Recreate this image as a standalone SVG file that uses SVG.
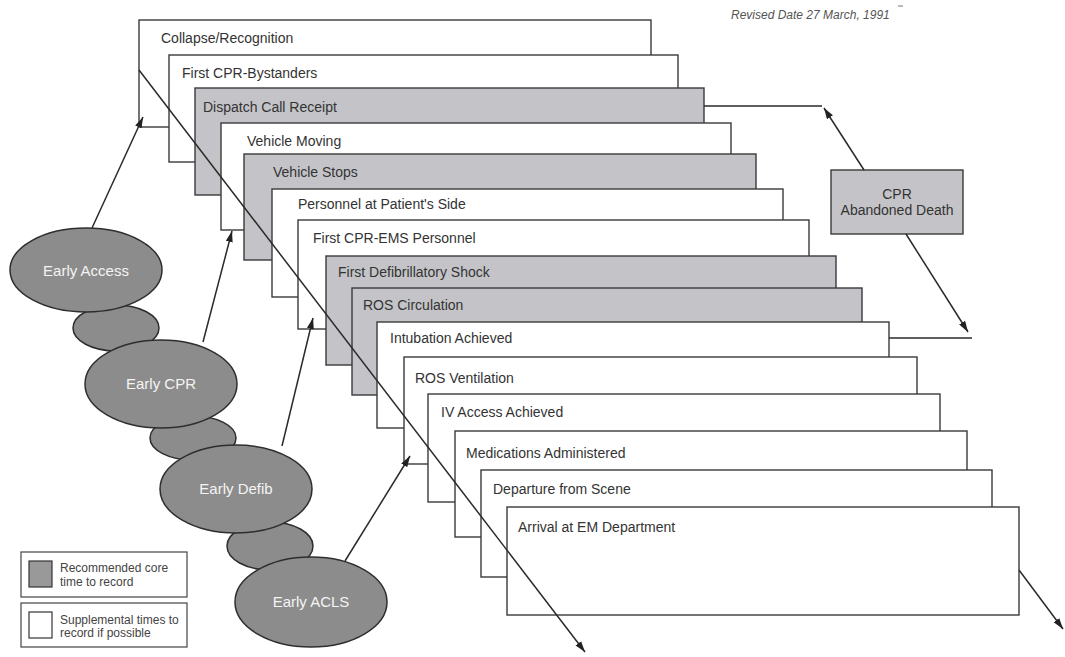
<svg xmlns="http://www.w3.org/2000/svg" width="1065" height="657" viewBox="0 0 1065 657">
<style>
.card{stroke:#3a3a3a;stroke-width:1.4}
.w{fill:#ffffff}
.g{fill:#c4c4c8}
.lbl{font-family:"Liberation Sans",Arial,sans-serif;font-size:14px;fill:#333}
.ell{fill:#8c8c8c;stroke:#2e2e2e;stroke-width:1.5}
.etx{font-family:"Liberation Sans",Arial,sans-serif;font-size:15px;fill:#f4f4f4;text-anchor:middle}
.con{stroke:#2a2a2a;stroke-width:1.5;fill:none}
.leg{font-family:"Liberation Sans",Arial,sans-serif;font-size:12px;fill:#444}
</style>
<defs>
<marker id="ah" viewBox="0 0 10 10" refX="10" refY="5" markerWidth="11" markerHeight="11" markerUnits="userSpaceOnUse" orient="auto">
<path d="M0,1.8 L10,5 L0,8.2 z" fill="#222"/>
</marker>
</defs>
<rect width="1065" height="657" fill="#ffffff"/>

<text x="731" y="19" font-family="Liberation Sans, Arial, sans-serif" font-size="12" font-style="italic" fill="#555">Revised Date 27 March, 1991</text>
<line x1="898" y1="6" x2="903" y2="6" stroke="#777" stroke-width="1"/>

<g id="legend">
<rect x="21" y="552" width="166" height="45" fill="#fff" stroke="#444" stroke-width="1.2"/>
<rect x="29" y="561" width="23" height="26" fill="#999" stroke="#333" stroke-width="1.2"/>
<text class="leg" x="60" y="572">Recommended core</text>
<text class="leg" x="60" y="586">time to record</text>
<rect x="21" y="603" width="166" height="44" fill="#fff" stroke="#444" stroke-width="1.2"/>
<rect x="29" y="612" width="23" height="26" fill="#fff" stroke="#333" stroke-width="1.2"/>
<text class="leg" x="60" y="624">Supplemental times to</text>
<text class="leg" x="60" y="637">record if possible</text>
</g>

<g id="chain">
<ellipse id="link3" class="ell" cx="270" cy="546" rx="43" ry="24"/>
<ellipse id="link2" class="ell" cx="193" cy="438" rx="43" ry="22"/>
<ellipse id="link1" class="ell" cx="116" cy="328" rx="43" ry="23"/>
<g id="early-access"><ellipse class="ell" cx="86" cy="270" rx="76" ry="42"/><text class="etx" x="86" y="276">Early Access</text></g>
<g id="early-cpr"><ellipse class="ell" cx="161" cy="384" rx="76" ry="44"/><text class="etx" x="161" y="389">Early CPR</text></g>
<g id="early-defib"><ellipse class="ell" cx="236" cy="489" rx="76" ry="44"/><text class="etx" x="236" y="494">Early Defib</text></g>
<g id="early-acls"><ellipse class="ell" cx="311" cy="602" rx="76" ry="45"/><text class="etx" x="311" y="607">Early ACLS</text></g>
</g>

<g id="cards">
<g id="c1"><rect class="card w" x="139" y="20" width="512" height="107"/><text class="lbl" x="161" y="43">Collapse/Recognition</text></g>
<g id="c2"><rect class="card w" x="169" y="55" width="509" height="107"/><text class="lbl" x="182" y="78">First CPR-Bystanders</text></g>
<g id="c3"><rect class="card g" x="195" y="88" width="509" height="107"/><text class="lbl" x="203" y="112">Dispatch Call Receipt</text></g>
<g id="c4"><rect class="card w" x="221" y="123" width="510" height="107"/><text class="lbl" x="247" y="146">Vehicle Moving</text></g>
<g id="c5"><rect class="card g" x="244" y="154" width="512" height="106"/><text class="lbl" x="273" y="177">Vehicle Stops</text></g>
<g id="c6"><rect class="card w" x="272" y="189" width="511" height="108"/><text class="lbl" x="298" y="209">Personnel at Patient's Side</text></g>
<g id="c7"><rect class="card w" x="298" y="220" width="511" height="109"/><text class="lbl" x="313" y="243">First CPR-EMS Personnel</text></g>
<g id="c8"><rect class="card g" x="326" y="256" width="510" height="109"/><text class="lbl" x="338" y="277">First Defibrillatory Shock</text></g>
<g id="c9"><rect class="card g" x="352" y="288" width="510" height="107"/><text class="lbl" x="363" y="310">ROS Circulation</text></g>
<g id="c10"><rect class="card w" x="377" y="322" width="512" height="106"/><text class="lbl" x="390" y="343">Intubation Achieved</text></g>
<g id="c11"><rect class="card w" x="404" y="357" width="513" height="107"/><text class="lbl" x="415" y="383">ROS Ventilation</text></g>
<g id="c12"><rect class="card w" x="428" y="394" width="512" height="108"/><text class="lbl" x="441" y="417">IV Access Achieved</text></g>
<g id="c13"><rect class="card w" x="455" y="431" width="512" height="106"/><text class="lbl" x="466" y="458">Medications Administered</text></g>
<g id="c14"><rect class="card w" x="481" y="470" width="511" height="107"/><text class="lbl" x="493" y="494">Departure from Scene</text></g>
<g id="c15"><rect class="card w" x="507" y="507" width="512" height="108"/><text class="lbl" x="518" y="532">Arrival at EM Department</text></g>
</g>

<g id="cpr-abandoned">
<rect x="831" y="170" width="132" height="64" fill="#c4c4c8" stroke="#3a3a3a" stroke-width="1.4"/>
<text class="lbl" x="897" y="199" text-anchor="middle" fill="#444">CPR</text>
<text class="lbl" x="897" y="215" text-anchor="middle" fill="#444">Abandoned Death</text>
</g>

<g id="connectors">
<line class="con" x1="704" y1="106" x2="822" y2="106"/>
<line class="con" x1="889" y1="338" x2="972" y2="338"/>
<line class="con" x1="864" y1="170" x2="824" y2="108" marker-end="url(#ah)"/>
<line class="con" x1="906" y1="234" x2="968" y2="332" marker-end="url(#ah)"/>
<line class="con" x1="92" y1="228" x2="143" y2="117" marker-end="url(#ah)"/>
<line class="con" x1="203" y1="342" x2="232" y2="231" marker-end="url(#ah)"/>
<line class="con" x1="282" y1="446" x2="313" y2="318" marker-end="url(#ah)"/>
<line class="con" x1="345" y1="561" x2="410" y2="456" marker-end="url(#ah)"/>
<line class="con" x1="139" y1="70" x2="585" y2="652" marker-end="url(#ah)"/>
<line class="con" x1="1019" y1="570" x2="1063" y2="629" marker-end="url(#ah)"/>
</g>
</svg>
